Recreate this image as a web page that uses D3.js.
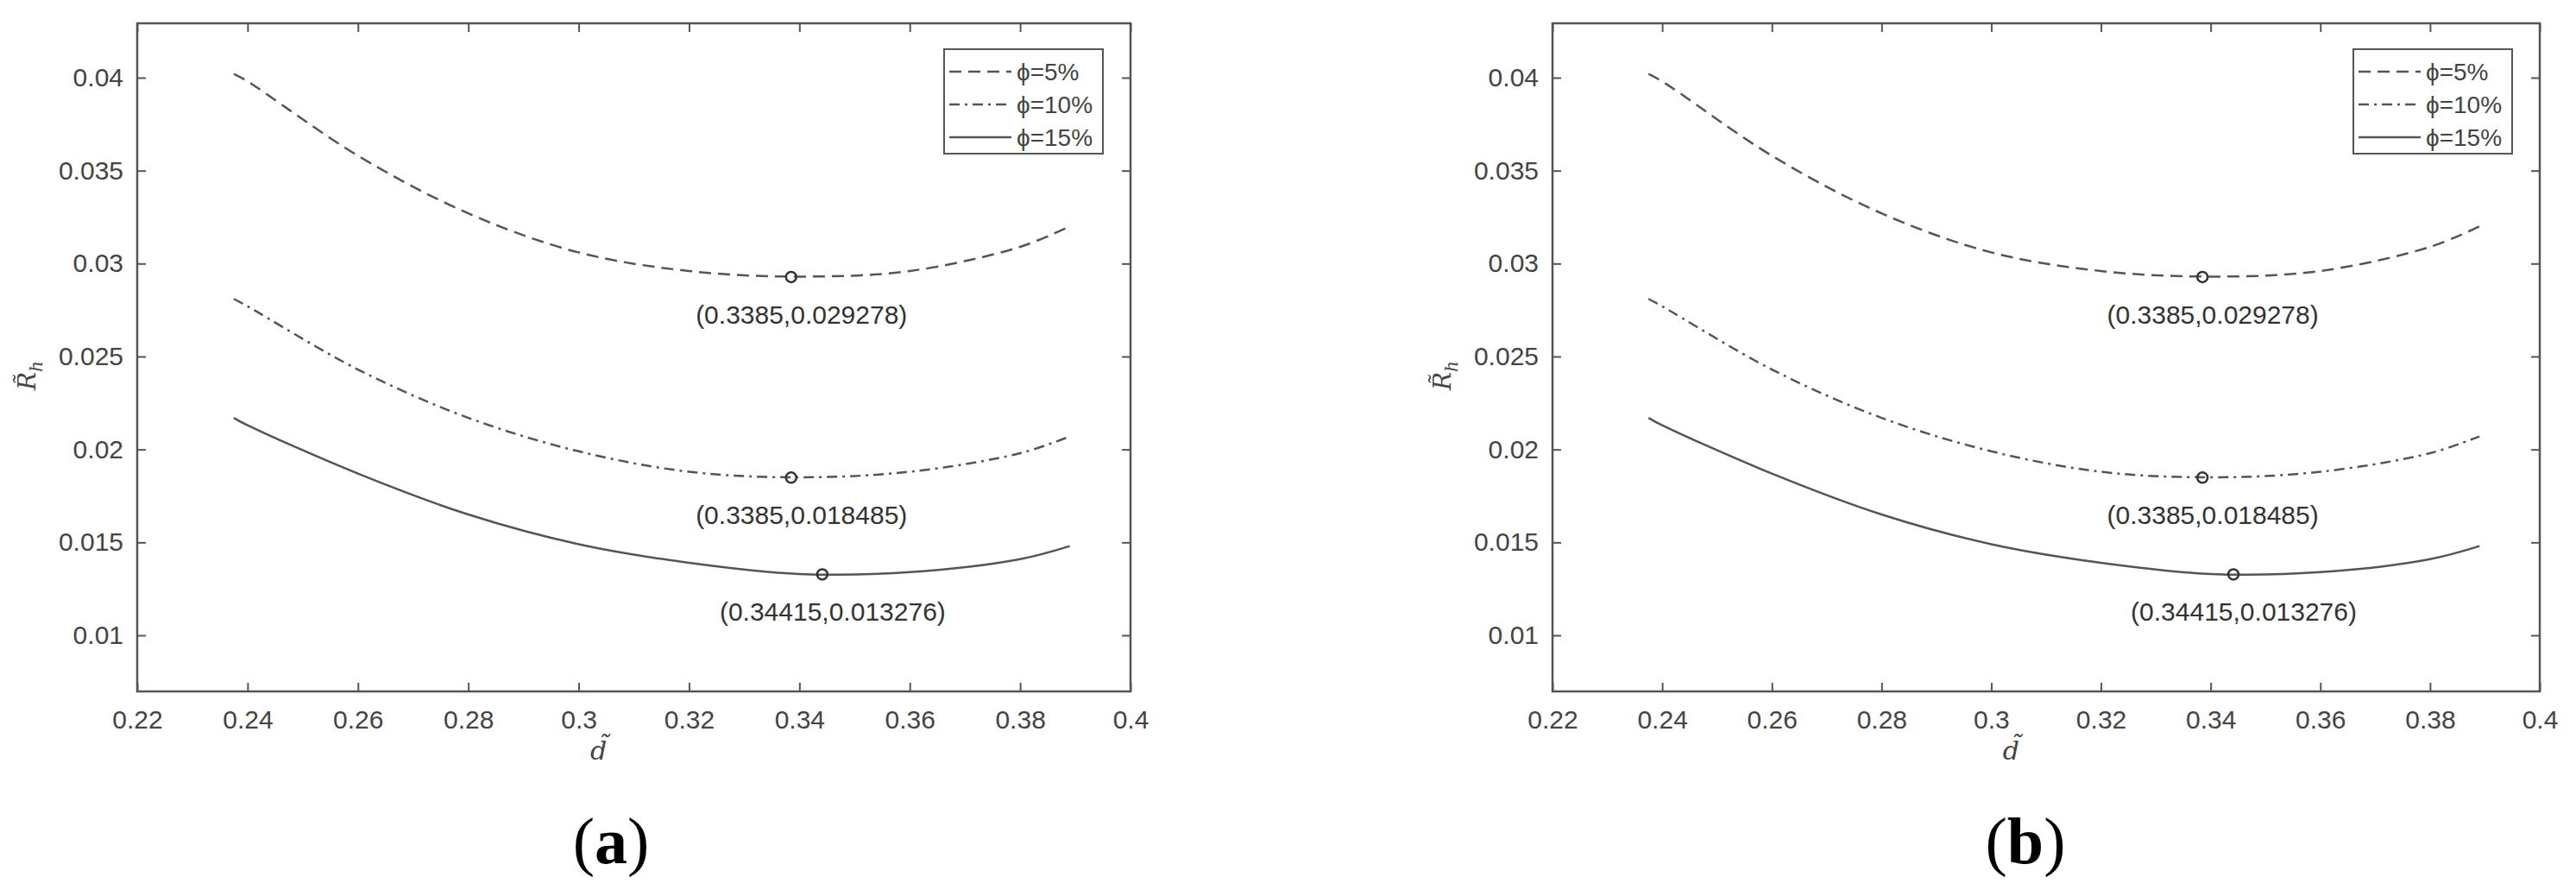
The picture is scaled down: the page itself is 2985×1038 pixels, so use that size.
<!DOCTYPE html>
<html><head><meta charset="utf-8">
<script src="https://cdn.jsdelivr.net/npm/d3@7"></script>
<style>body{margin:0;background:#fff}</style>
</head><body>
<svg id="c" width="2985" height="1038"></svg>
<script>
const xTicks=[0.22,0.24,0.26,0.28,0.3,0.32,0.34,0.36,0.38,0.4];
const yTicks=[0.01,0.015,0.02,0.025,0.03,0.035,0.04];
const dValues=[0.2375,0.24,0.26,0.28,0.30,0.32,0.34,0.36,0.38,0.389];
const phi5=[0.0402,0.0398,0.0358,0.0327,0.0306,0.0296,0.0293,0.0296,0.0309,0.0320];
const phi10=[0.0281,0.0277,0.0243,0.0217,0.0199,0.0188,0.0185,0.0188,0.0198,0.0207];
const phi15=[0.0217,0.0213,0.0187,0.0165,0.0149,0.0139,0.0133,0.0134,0.0141,0.0148];
const seriesNames=["\u03d5=5%","\u03d5=10%","\u03d5=15%"];
const minX=[0.3385,0.3385,0.34415];
const minY=[0.029278,0.018485,0.013276];
const minLabels=["(0.3385,0.029278)","(0.3385,0.018485)","(0.34415,0.013276)"];
const panelLabels=["a","b"];

const series=[phi5,phi10,phi15];
const dashes=["14,8","12,6,3,6",null];
const svg=d3.select("#c");
const panels=[{l:159,r:1310,lab:708},{l:1799,r:2943,lab:2347}];
const plotTop=27,plotBottom=801,col="#555",font="'Liberation Sans',Arial,sans-serif";

panels.forEach((p,pi)=>{
  const x=d3.scaleLinear().domain([0.22,0.4]).range([p.l,p.r]);
  const y=d3.scaleLinear().domain([0.04,0.025]).range([90,413]);
  const g=svg.append("g");
  g.append("rect").attr("x",p.l).attr("y",plotTop).attr("width",p.r-p.l).attr("height",plotBottom-plotTop)
    .attr("fill","none").attr("stroke",col).attr("stroke-width",2.5);
  const fmt=d=>String(+d.toFixed(3));
  const ax=g.append("g").attr("transform",`translate(0,${plotBottom})`)
    .call(d3.axisBottom(x).tickValues(xTicks).tickSize(-10).tickPadding(22).tickFormat(fmt));
  const ax2=g.append("g").attr("transform",`translate(0,${plotTop})`)
    .call(d3.axisTop(x).tickValues(xTicks).tickSize(-10).tickFormat(""));
  const ay=g.append("g").attr("transform",`translate(${p.l},0)`)
    .call(d3.axisLeft(y).tickValues(yTicks).tickSize(-10).tickPadding(16).tickFormat(fmt));
  const ay2=g.append("g").attr("transform",`translate(${p.r},0)`)
    .call(d3.axisRight(y).tickValues(yTicks).tickSize(-10).tickFormat(""));
  [ax,ax2,ay,ay2].forEach(a=>{a.select(".domain").remove();
    a.selectAll("line").attr("stroke",col).attr("stroke-width",2);
    a.selectAll("text").attr("fill","#444").style("font-family",font).style("font-size","30px");});
  const line=d3.line().x((d,i)=>x(dValues[i])).y(d=>y(d)).curve(d3.curveCatmullRom);
  series.forEach((s,si)=>{
    g.append("path").attr("d",line(s)).attr("fill","none").attr("stroke",col)
      .attr("stroke-width",2.5).attr("stroke-dasharray",dashes[si]);
    g.append("circle").attr("cx",x(minX[si])).attr("cy",y(minY[si])).attr("r",6)
      .attr("fill","none").attr("stroke","#333").attr("stroke-width",2.5);
    g.append("text").attr("x",x(minX[si])+12).attr("y",y(minY[si])+54).attr("text-anchor","middle")
      .attr("fill","#333").style("font-family",font).style("font-size","30px").text(minLabels[si]);
  });
  const lx=p.r-216,ly=57;
  g.append("rect").attr("x",lx).attr("y",ly).attr("width",184).attr("height",121)
    .attr("fill","#fff").attr("stroke",col).attr("stroke-width",2);
  seriesNames.forEach((n,i)=>{
    const yy=ly+26+i*38;
    g.append("line").attr("x1",lx+6).attr("x2",lx+78).attr("y1",yy).attr("y2",yy)
      .attr("stroke",col).attr("stroke-width",2.5).attr("stroke-dasharray",dashes[i]);
    g.append("text").attr("x",lx+84).attr("y",yy+10).attr("fill","#444")
      .style("font-family",font).style("font-size","28px").text(n);
  });
  g.append("text").attr("x",x(0.3)+23).attr("y",880).attr("text-anchor","middle")
    .style("font-family","'DejaVu Serif',serif").style("font-style","italic").style("font-size","30px")
    .attr("fill","#444").text("d\u0303");
  const yl=g.append("text").attr("transform",`translate(${p.l-118},435) rotate(-90)`)
    .attr("text-anchor","middle").style("font-family","'DejaVu Serif',serif").style("font-style","italic")
    .style("font-size","28px").attr("fill","#444");
  yl.append("tspan").text("R\u0303");
  yl.append("tspan").attr("dy",8).style("font-size","20px").text("h");
  const pl=g.append("text").attr("x",p.lab).attr("y",1000).attr("text-anchor","middle")
    .style("font-family","'Liberation Serif','DejaVu Serif',serif").style("font-size","76px").attr("fill","#000");
  pl.append("tspan").text("(");
  pl.append("tspan").style("font-weight","bold").text(panelLabels[pi]);
  pl.append("tspan").text(")");
});
</script>
</body></html>
